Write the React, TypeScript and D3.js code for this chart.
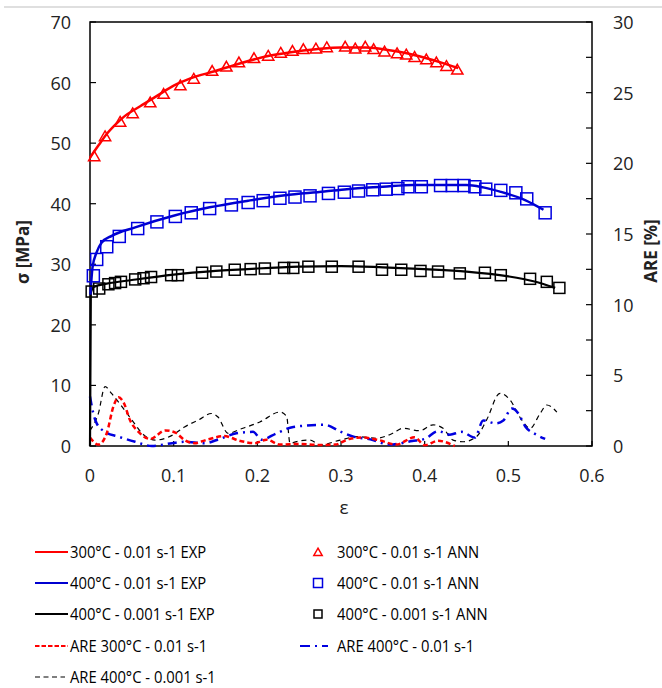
import React from "react";
import * as d3 from "d3";

// ---------- DATA ----------
const exp300: [number, number][] = [
  [0.0, 47.6], [0.01, 49.6], [0.02, 51.5], [0.03, 53.0], [0.04, 54.3], [0.06, 56.1],
  [0.08, 57.8], [0.1, 59.5], [0.12, 60.7], [0.15, 61.9], [0.18, 63.2], [0.21, 64.3],
  [0.24, 65.0], [0.27, 65.5], [0.3, 65.8], [0.33, 65.8], [0.36, 65.3], [0.38, 64.8],
  [0.4, 64.1], [0.42, 63.3], [0.44, 62.4],
];
const ann300: [number, number][] = [
  [0.005, 47.8], [0.018, 51.1], [0.036, 53.5], [0.051, 54.9], [0.072, 56.7], [0.088, 58.1],
  [0.108, 59.5], [0.124, 60.6], [0.146, 61.9], [0.163, 62.6], [0.178, 63.3], [0.196, 64.0],
  [0.213, 64.4], [0.228, 64.9], [0.242, 65.2], [0.255, 65.5], [0.27, 65.6], [0.283, 65.8],
  [0.305, 65.9], [0.317, 65.6], [0.329, 65.9], [0.339, 65.5], [0.352, 65.1], [0.367, 64.8],
  [0.378, 64.6], [0.388, 64.2], [0.402, 63.8], [0.414, 63.3], [0.426, 62.7], [0.439, 62.1],
];
const exp400a: [number, number][] = [
  [0.0005, 25.0], [0.003, 29.5], [0.008, 32.0], [0.014, 33.6], [0.026, 34.7], [0.054, 36.1],
  [0.102, 38.1], [0.143, 39.4], [0.189, 40.5], [0.233, 41.4], [0.28, 42.0], [0.307, 42.4],
  [0.35, 42.8], [0.386, 43.1], [0.45, 43.1], [0.47, 42.7], [0.49, 42.0], [0.52, 40.6],
  [0.542, 39.0],
];
const ann400a: [number, number][] = [
  [0.004, 28.1], [0.008, 30.8], [0.02, 32.9], [0.035, 34.6], [0.057, 35.9], [0.08, 37.0],
  [0.102, 37.9], [0.121, 38.5], [0.143, 39.2], [0.169, 39.8], [0.189, 40.2], [0.207, 40.5],
  [0.227, 40.9], [0.245, 41.1], [0.263, 41.3], [0.285, 41.7], [0.304, 41.9], [0.321, 42.1],
  [0.338, 42.3], [0.354, 42.4], [0.368, 42.5], [0.38, 42.8], [0.396, 42.8], [0.419, 43.0],
  [0.433, 43.0], [0.447, 43.0], [0.46, 42.8], [0.473, 42.4], [0.491, 42.2], [0.509, 41.8],
  [0.522, 40.8], [0.544, 38.5],
];
const exp400b: [number, number][] = [
  [0.0, 0.0], [0.001, 25.3], [0.005, 26.3], [0.02, 26.8], [0.05, 27.4], [0.1, 28.3],
  [0.15, 28.9], [0.2, 29.3], [0.25, 29.6], [0.3, 29.7], [0.35, 29.5], [0.4, 29.2],
  [0.45, 28.8], [0.5, 28.0], [0.53, 27.2], [0.556, 26.1],
];
const ann400b: [number, number][] = [
  [0.002, 25.5], [0.011, 26.0], [0.022, 26.7], [0.03, 26.9], [0.037, 27.1], [0.054, 27.5],
  [0.064, 27.7], [0.073, 27.9], [0.097, 28.2], [0.105, 28.2], [0.134, 28.6], [0.151, 28.8],
  [0.173, 29.1], [0.192, 29.2], [0.209, 29.3], [0.232, 29.4], [0.243, 29.4], [0.261, 29.6],
  [0.289, 29.6], [0.321, 29.6], [0.349, 29.1], [0.372, 29.1], [0.395, 28.9], [0.416, 28.8],
  [0.442, 28.5], [0.472, 28.6], [0.491, 28.2], [0.526, 27.6], [0.546, 27.1], [0.561, 26.1],
];
const are300: [number, number][] = [
  [0.0, 0.6], [0.01, 0.1], [0.02, 0.9], [0.028, 2.8], [0.034, 3.45], [0.04, 3.1], [0.048, 1.8],
  [0.058, 1.0], [0.072, 0.5], [0.09, 1.1], [0.102, 0.95], [0.113, 0.42], [0.125, 0.2],
  [0.14, 0.45], [0.16, 0.7], [0.18, 0.35], [0.197, 0.2], [0.211, 0.45], [0.227, 0.1],
  [0.25, 0.15], [0.275, 0.07], [0.293, 0.1], [0.31, 0.5], [0.325, 0.6], [0.345, 0.42],
  [0.366, 0.1], [0.388, 0.62], [0.4, 0.05], [0.416, 0.37], [0.436, 0.0],
];
const are400a: [number, number][] = [
  [0.0, 3.5], [0.004, 2.3], [0.008, 1.6], [0.018, 1.0], [0.034, 0.66], [0.054, 0.3],
  [0.074, 0.0], [0.098, 0.2], [0.113, 0.3], [0.137, 0.2], [0.155, 0.5], [0.175, 0.9],
  [0.195, 1.0], [0.205, 0.45], [0.223, 0.9], [0.243, 1.35], [0.28, 1.5], [0.3, 1.0],
  [0.315, 0.66], [0.335, 0.47], [0.358, 0.1], [0.385, 0.35], [0.4, 0.5], [0.416, 1.05],
  [0.43, 0.8], [0.444, 1.0], [0.46, 0.6], [0.47, 1.8], [0.485, 1.6], [0.494, 1.8],
  [0.504, 2.65], [0.512, 2.3], [0.52, 1.4], [0.532, 0.85], [0.544, 0.5],
];
const are400b: [number, number][] = [
  [0.0, 1.1], [0.01, 2.3], [0.018, 4.2], [0.026, 3.7], [0.038, 2.8], [0.05, 1.85],
  [0.064, 0.8], [0.078, 0.42], [0.098, 0.75], [0.113, 1.35], [0.13, 1.85], [0.145, 2.3],
  [0.153, 2.05], [0.165, 0.9], [0.18, 1.2], [0.203, 1.7], [0.227, 2.4], [0.235, 2.1],
  [0.239, 0.2], [0.251, 0.37], [0.263, 0.42], [0.275, 0.07], [0.299, 0.42], [0.319, 0.66],
  [0.342, 0.55], [0.362, 0.9], [0.374, 1.25], [0.394, 1.08], [0.41, 1.5], [0.422, 1.25],
  [0.434, 0.42], [0.446, 0.3], [0.462, 0.66], [0.474, 1.84], [0.49, 3.73], [0.502, 3.26],
  [0.516, 1.84], [0.526, 1.25], [0.538, 2.3], [0.546, 2.9], [0.558, 2.4],
];
const xTicks = [0, 0.1, 0.2, 0.3, 0.4, 0.5, 0.6];
const xTickLabels = ["0", "0.1", "0.2", "0.3", "0.4", "0.5", "0.6"];
const yTicks = [0, 10, 20, 30, 40, 50, 60, 70];
const y2Ticks = [0, 5, 10, 15, 20, 25, 30];
const y2Minor = [2.5, 7.5, 12.5, 17.5, 22.5, 27.5];

const legendLeft = [
  "300°C - 0.01 s-1 EXP",
  "400°C - 0.01 s-1 EXP",
  "400°C - 0.001 s-1 EXP",
  "ARE 300°C - 0.01 s-1",
  "ARE 400°C - 0.001 s-1",
];
const legendRight = [
  "300°C - 0.01 s-1 ANN",
  "400°C - 0.01 s-1 ANN",
  "400°C - 0.001 s-1 ANN",
  "ARE 400°C - 0.01 s-1",
];

// ---------- LAYOUT ----------
const W = 662, H = 688;
const L = 90, R = 592, T = 22, B = 446;
const FONT = "'Open Sans', 'Liberation Sans', sans-serif";

export default function App() {
  const x = d3.scaleLinear().domain([0, 0.6]).range([L, R]);
  const y = d3.scaleLinear().domain([0, 70]).range([B, T]);
  const y2 = d3.scaleLinear().domain([0, 30]).range([B, T]);

  const line = d3.line<[number, number]>().x(d => x(d[0])).y(d => y(d[1])).curve(d3.curveMonotoneX);
  const line2 = d3.line<[number, number]>().x(d => x(d[0])).y(d => y2(d[1])).curve(d3.curveMonotoneX);

  const tri = d3.symbol().type(d3.symbolTriangle).size(55)()!;
  const triSmall = d3.symbol().type(d3.symbolTriangle).size(30)()!;
  const sq = 12;
  const sqB = 11;

  const rowY = [552, 583, 614, 646, 677];
  const lgX1 = 35, lgX2 = 68, lgTx = 70;
  const rgMx = 318, rgTx = 337;
  const sx = 0.87;

  const legendText = (t: string, xx: number, yy: number) => (
    <text
      key={t}
      transform={`translate(${xx},${yy}) scale(${sx},1)`}
      fontSize={17}
      dominantBaseline="central"
      fill="#000"
    >
      {t}
    </text>
  );

  return (
    <svg width={W} height={H} style={{ position: "absolute", left: 0, top: 0, background: "#fff" }} fontFamily={FONT}>
      <rect x={0} y={0} width={W} height={H} fill="#fff" />
      <line x1={4} x2={W} y1={7} y2={7} stroke="#d4d4d4" strokeWidth={1.5} />

      {/* plot frame */}
      <rect x={L} y={T} width={R - L} height={B - T} fill="none" stroke="#000" strokeWidth={1.5} />

      {/* ticks */}
      {yTicks.map(v => (
        <line key={"yt" + v} x1={L} x2={L + 6} y1={y(v)} y2={y(v)} stroke="#000" strokeWidth={1.2} />
      ))}
      {[...y2Ticks, ...y2Minor].map(v => (
        <line key={"y2t" + v} x1={R - 6} x2={R} y1={y2(v)} y2={y2(v)} stroke="#000" strokeWidth={1.2} />
      ))}
      {xTicks.map(v => (
        <line key={"xt" + v} x1={x(v)} x2={x(v)} y1={B} y2={B - 5} stroke="#000" strokeWidth={1.2} />
      ))}

      {/* tick labels */}
      {yTicks.map(v => (
        <text key={"yl" + v} x={L - 19} y={y(v)} textAnchor="end" dominantBaseline="central" fontSize={18} fill="#222">
          {v}
        </text>
      ))}
      {y2Ticks.map(v => (
        <text key={"y2l" + v} x={R + 21} y={y2(v)} textAnchor="start" dominantBaseline="central" fontSize={18} fill="#222">
          {v}
        </text>
      ))}
      {xTicks.map((v, i) => (
        <text key={"xl" + v} x={x(v)} y={475} textAnchor="middle" dominantBaseline="central" fontSize={18} fill="#222">
          {xTickLabels[i]}
        </text>
      ))}

      {/* axis titles */}
      <text transform={`translate(22,252) rotate(-90)`} textAnchor="middle" dominantBaseline="central" fontSize={17} fontWeight="bold" fill="#222">
        σ [MPa]
      </text>
      <text transform={`translate(650,251) rotate(-90)`} textAnchor="middle" dominantBaseline="central" fontSize={17} fontWeight="bold" fill="#222">
        ARE [%]
      </text>
      <text x={344} y={507} textAnchor="middle" dominantBaseline="central" fontSize={19} fill="#222">
        ε
      </text>

      {/* ARE curves */}
      <path d={line2(are400b)!} fill="none" stroke="#000" strokeWidth={1.2} strokeDasharray="5 4" />
      <path d={line2(are400a)!} fill="none" stroke="#0000e0" strokeWidth={2.5} strokeDasharray="9 5 2 5" />
      <path d={line2(are300)!} fill="none" stroke="#ff0000" strokeWidth={2.5} strokeDasharray="5 3" />

      {/* EXP curves */}
      <path d={line(exp400b)!} fill="none" stroke="#000" strokeWidth={2.2} />
      <path d={line(exp400a)!} fill="none" stroke="#0000d0" strokeWidth={2.5} />
      <path d={line(exp300)!} fill="none" stroke="#ff0000" strokeWidth={2.5} />

      {/* ANN markers */}
      {ann400b.map((d, i) => (
        <rect key={"b" + i} x={x(d[0]) - sqB / 2} y={y(d[1]) - sqB / 2} width={sqB} height={sqB} fill="none" stroke="#000" strokeWidth={1.5} />
      ))}
      {ann400a.map((d, i) => (
        <rect key={"a" + i} x={x(d[0]) - sq / 2} y={y(d[1]) - sq / 2} width={sq} height={sq} fill="none" stroke="#0000e0" strokeWidth={1.5} />
      ))}
      {ann300.map((d, i) => (
        <path key={"t" + i} d={tri} transform={`translate(${x(d[0])},${y(d[1]) + 1})`} fill="none" stroke="#ff0000" strokeWidth={1.5} />
      ))}

      {/* legend left */}
      <line x1={lgX1} x2={lgX2} y1={rowY[0]} y2={rowY[0]} stroke="#ff0000" strokeWidth={2} />
      <line x1={lgX1} x2={lgX2} y1={rowY[1]} y2={rowY[1]} stroke="#0000d0" strokeWidth={2} />
      <line x1={lgX1} x2={lgX2} y1={rowY[2]} y2={rowY[2]} stroke="#000" strokeWidth={2} />
      <line x1={lgX1} x2={lgX2} y1={rowY[3]} y2={rowY[3]} stroke="#ff0000" strokeWidth={2} strokeDasharray="4.5 2" />
      <line x1={lgX1} x2={lgX2 - 3} y1={rowY[4]} y2={rowY[4]} stroke="#000" strokeWidth={1.2} strokeDasharray="5 3.5" />
      {legendLeft.map((t, i) => legendText(t, lgTx, rowY[i]))}

      {/* legend right */}
      <path d={triSmall} transform={`translate(${rgMx},${rowY[0] + 1})`} fill="none" stroke="#ff0000" strokeWidth={1.5} />
      <rect x={rgMx - 4.5} y={rowY[1] - 4.5} width={9} height={9} fill="none" stroke="#0000e0" strokeWidth={1.5} />
      <rect x={rgMx - 4} y={rowY[2] - 4} width={8} height={8} fill="none" stroke="#000" strokeWidth={1.5} />
      <line x1={300} x2={328} y1={rowY[3]} y2={rowY[3]} stroke="#0000e0" strokeWidth={2} strokeDasharray="10 5 2 5" />
      {legendRight.map((t, i) => legendText(t, rgTx, rowY[i]))}
    </svg>
  );
}
